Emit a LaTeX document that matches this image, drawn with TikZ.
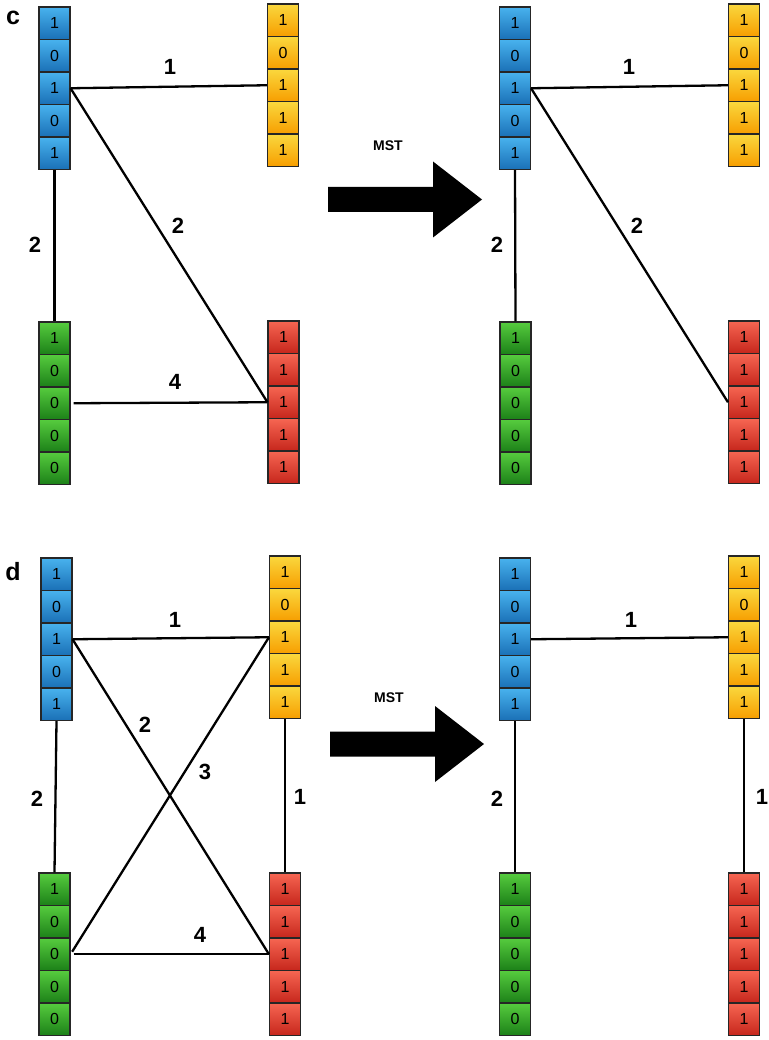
\documentclass[tikz,border=0pt]{standalone}
\usepackage{fontspec}
\setmainfont{Liberation Sans}
\definecolor{blueT}{RGB}{72,178,238}
\definecolor{blueB}{RGB}{26,112,182}
\definecolor{yelT}{RGB}{250,216,62}
\definecolor{yelB}{RGB}{247,158,0}
\definecolor{grnT}{RGB}{86,204,62}
\definecolor{grnB}{RGB}{28,128,24}
\definecolor{redT}{RGB}{246,102,82}
\definecolor{redB}{RGB}{198,38,28}
\tikzset{
  cell/.style   ={draw=black!85,line width=1.1pt,minimum width=31pt,minimum height=32.5pt,
                  inner sep=0pt,font=\fontsize{16}{18}\selectfont},
  bluecell/.style={cell,top color=blueT,bottom color=blueB},
  yelcell/.style ={cell,top color=yelT,bottom color=yelB},
  grncell/.style ={cell,top color=grnT,bottom color=grnB},
  redcell/.style ={cell,top color=redT,bottom color=redB},
  edge/.style   ={line width=2.3pt},
  wt/.style     ={font=\fontsize{22}{25}\selectfont\bfseries,inner sep=1pt},
  mst/.style    ={font=\fontsize{14}{16}\selectfont\bfseries},
  tag/.style    ={font=\fontsize{25}{28}\selectfont\bfseries},
}
% a column of five bits: name, x, top, style, bits
\newcommand{\bitcol}[5]{%
  \foreach \b [count=\i] in {#5}
    \node[#4] (#1\i) at (#2,#3+32.5*\i-16.25) {\b};}
% the big MST arrow, its left end at (#1,#2)
\newcommand{\mstarrow}[2]{%
  \fill[shift={(#1,#2)}] (0,-12.5) -- (105,-12.5) -- (105,-38) -- (154,0)
    -- (105,38) -- (105,12.5) -- (0,12.5) -- cycle;}

\begin{document}
\begin{tikzpicture}[x=1pt,y=-1pt]
  \useasboundingbox (0,0) rectangle (768,1040);
  % ---- c
  \node[tag] (tc) at (13,18) {c};
  \bitcol{cb}{54.5}{7}{bluecell}{1,0,1,0,1}
  \bitcol{cy}{283}{4}{yelcell}{1,0,1,1,1}
  \bitcol{cg}{54.5}{322}{grncell}{1,0,0,0,0}
  \bitcol{cr}{283.5}{321}{redcell}{1,1,1,1,1}
  \draw[edge] (cb3.east) -- (cy3.west);
  \draw[edge] (cb3.east) -- (cr3.west);
  \draw[edge] (cb5.south) -- (cg1.north);
  \draw[edge,shorten <=3pt] (cg3.east) -- (cr3.west);
  \node[wt] (cw1) at (170,67) {1};  \node[wt] (cw2) at (178,226) {2};
  \node[wt] (cw3) at (35,245) {2};  \node[wt] (cw4) at (175,382) {4};
  \node[mst] (cm) at (388,146) {MST};
  \mstarrow{328}{199.5}
  \bitcol{tb}{515}{7}{bluecell}{1,0,1,0,1}
  \bitcol{ty}{744}{4}{yelcell}{1,0,1,1,1}
  \bitcol{tg}{515.5}{322}{grncell}{1,0,0,0,0}
  \bitcol{tr}{744}{321}{redcell}{1,1,1,1,1}
  \draw[edge] (tb3.east) -- (ty3.west);
  \draw[edge] (tb3.east) -- (tr3.west);
  \draw[edge] (tb5.south) -- (tg1.north);
  \node[wt] (tw1) at (629,67) {1};  \node[wt] (tw2) at (637,226) {2};
  \node[wt] (tw3) at (497,245) {2};
  % ---- d
  \node[tag] (td) at (13,572) {d};
  \bitcol{db}{56.5}{558}{bluecell}{1,0,1,0,1}
  \bitcol{dy}{285}{556}{yelcell}{1,0,1,1,1}
  \bitcol{dg}{54.5}{873}{grncell}{1,0,0,0,0}
  \bitcol{dr}{285}{873}{redcell}{1,1,1,1,1}
  \draw[edge] (db3.east) -- (dy3.west);
  \draw[edge] (db3.east) -- (dr3.west);
  \draw[edge,shorten <=3pt] (dg3.east) -- (dy3.west);
  \draw[edge,shorten <=3pt] (dg3.east) -- (dr3.west);
  \draw[edge] (db5.south) -- (dg1.north);
  \draw[edge] (dy5.south) -- (dr1.north);
  \node[wt] (dw1) at (175,620) {1};  \node[wt] (dw2) at (145,725) {2};
  \node[wt] (dw3) at (205,772) {3};  \node[wt] (dw4) at (200,935) {4};
  \node[wt] (dw5) at (37,799) {2};   \node[wt] (dw6) at (300,797) {1};
  \node[mst] (dm) at (389,698) {MST};
  \mstarrow{330}{744}
  \bitcol{eb}{515}{558}{bluecell}{1,0,1,0,1}
  \bitcol{ey}{744}{556}{yelcell}{1,0,1,1,1}
  \bitcol{eg}{515}{873}{grncell}{1,0,0,0,0}
  \bitcol{er}{744}{873}{redcell}{1,1,1,1,1}
  \draw[edge] (eb3.east) -- (ey3.west);
  \draw[edge] (eb5.south) -- (eg1.north);
  \draw[edge] (ey5.south) -- (er1.north);
  \node[wt] (ew1) at (631,620) {1};  \node[wt] (ew2) at (497,799) {2};
  \node[wt] (ew3) at (762,797) {1};
\end{tikzpicture}
\end{document}
